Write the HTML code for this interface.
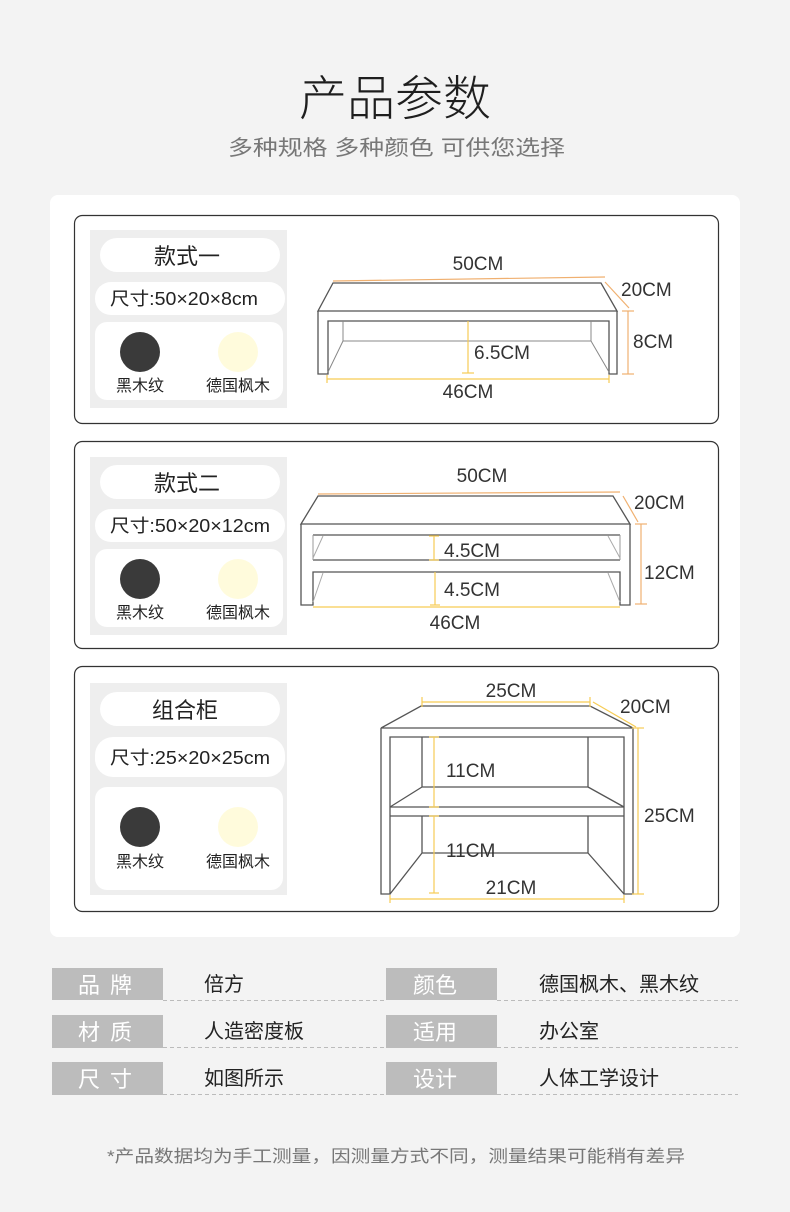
<!DOCTYPE html>
<html><head><meta charset="utf-8"><style>
html,body{margin:0;padding:0;background:#f3f3f3}
svg{display:block}
text{font-family:"Liberation Sans","Noto Sans CJK SC",sans-serif}
</style></head><body>
<svg width="790" height="1212" viewBox="0 0 790 1212" xmlns="http://www.w3.org/2000/svg">
<rect width="790" height="1212" fill="#f3f3f3"/>
<text x="395" y="115" font-size="48" fill="#1e1e1e" text-anchor="middle" font-weight="300">产品参数</text>
<text x="228" y="155" font-size="21" fill="#777" textLength="337" lengthAdjust="spacingAndGlyphs">多种规格 多种颜色 可供您选择</text>
<rect x="50" y="195" width="690" height="742" rx="8" fill="#fff"/>

<g fill="none" stroke="#333" stroke-width="1.2">
<rect x="74.5" y="215.5" width="644" height="208" rx="8"/>
<rect x="74.5" y="441.5" width="644" height="207" rx="8"/>
<rect x="74.5" y="666.5" width="644" height="245" rx="8"/>
</g>

<g>
<rect x="90" y="230" width="197" height="178" fill="#eee"/>
<rect x="100" y="238" width="180" height="34" rx="17" fill="#fff"/>
<rect x="95" y="282" width="190" height="33" rx="16" fill="#fff"/>
<rect x="95" y="322" width="188" height="78" rx="12" fill="#fff"/>
<text x="187" y="264" font-size="22" fill="#222" text-anchor="middle">款式一</text>
<text x="110" y="305" font-size="18" fill="#222" textLength="148" lengthAdjust="spacingAndGlyphs">尺寸:50×20×8cm</text>
<circle cx="140" cy="352" r="20" fill="#3a3a3a"/><circle cx="238" cy="352" r="20" fill="#fffbdc"/>
<text x="140" y="391" font-size="16" fill="#222" text-anchor="middle">黑木纹</text>
<text x="238" y="391" font-size="16" fill="#222" text-anchor="middle">德国枫木</text>
</g>
<g transform="translate(0,227)">
<rect x="90" y="230" width="197" height="178" fill="#eee"/>
<rect x="100" y="238" width="180" height="34" rx="17" fill="#fff"/>
<rect x="95" y="282" width="190" height="33" rx="16" fill="#fff"/>
<rect x="95" y="322" width="188" height="78" rx="12" fill="#fff"/>
<text x="187" y="264" font-size="22" fill="#222" text-anchor="middle">款式二</text>
<text x="110" y="305" font-size="18" fill="#222" textLength="160" lengthAdjust="spacingAndGlyphs">尺寸:50×20×12cm</text>
<circle cx="140" cy="352" r="20" fill="#3a3a3a"/><circle cx="238" cy="352" r="20" fill="#fffbdc"/>
<text x="140" y="391" font-size="16" fill="#222" text-anchor="middle">黑木纹</text>
<text x="238" y="391" font-size="16" fill="#222" text-anchor="middle">德国枫木</text>
</g>
<g>
<rect x="90" y="683" width="197" height="212" fill="#eee"/>
<rect x="100" y="692" width="180" height="34" rx="17" fill="#fff"/>
<rect x="95" y="737" width="190" height="40" rx="18" fill="#fff"/>
<rect x="95" y="787" width="188" height="103" rx="12" fill="#fff"/>
<text x="185" y="718" font-size="22" fill="#222" text-anchor="middle">组合柜</text>
<text x="110" y="764" font-size="18" fill="#222" textLength="160" lengthAdjust="spacingAndGlyphs">尺寸:25×20×25cm</text>
<circle cx="140" cy="827" r="20" fill="#3a3a3a"/><circle cx="238" cy="827" r="20" fill="#fffbdc"/>
<text x="140" y="867" font-size="16" fill="#222" text-anchor="middle">黑木纹</text>
<text x="238" y="867" font-size="16" fill="#222" text-anchor="middle">德国枫木</text>
</g>

<g fill="none" stroke="#555" stroke-width="1.3">
<path d="M333,283 L601,283 L617,311 L318,311 Z"/>
<path d="M318,311 L318,374 L328,374 L328,321 L609,321 L609,374 L617,374 L617,311"/>
<path d="M343,321 L343,341 L591,341 L591,321 M343,341 L328,372 M591,341 L609,372" stroke="#888" stroke-width="1"/>
</g>
<g stroke="#f0b070" stroke-width="1.2" fill="none">
<line x1="333" y1="281" x2="605" y2="277"/>
<line x1="605" y1="282" x2="629" y2="308"/>
<line x1="628" y1="311" x2="628" y2="374"/><line x1="622" y1="311" x2="634" y2="311"/><line x1="622" y1="374" x2="634" y2="374"/>
</g>
<g stroke="#f6cc55" stroke-width="1.2">
<line x1="468" y1="321" x2="468" y2="373"/><line x1="462" y1="373" x2="474" y2="373"/>
<line x1="327" y1="379" x2="609" y2="379"/><line x1="327" y1="375" x2="327" y2="383"/><line x1="609" y1="375" x2="609" y2="383"/>
</g>
<g font-size="19" fill="#333">
<text x="478" y="270" text-anchor="middle">50CM</text>
<text x="621" y="296">20CM</text>
<text x="633" y="348">8CM</text>
<text x="474" y="359">6.5CM</text>
<text x="468" y="398" text-anchor="middle">46CM</text>
</g>

<g fill="none" stroke="#555" stroke-width="1.3">
<path d="M318,496 L613,496 L630,524 L301,524 Z"/>
<path d="M301,524 L301,605 L313,605 L313,572 L620,572 L620,605 L630,605 L630,524"/>
<path d="M313,535 L620,535 M313,560 L620,560"/>
<path d="M313,535 L313,560 M620,535 L620,560" stroke="#999" stroke-width="1"/>
<path d="M323,536 L313,558 M608,536 L620,558 M323,573 L313,602 M608,573 L620,602" stroke="#aaa" stroke-width="1"/>
</g>
<g stroke="#f0b070" stroke-width="1.2">
<line x1="318" y1="494" x2="620" y2="492"/>
<line x1="623" y1="496" x2="638" y2="522"/>
<line x1="641" y1="524" x2="641" y2="604"/><line x1="635" y1="524" x2="647" y2="524"/><line x1="635" y1="604" x2="647" y2="604"/>
</g>
<g stroke="#f6cc55" stroke-width="1.2">
<line x1="434" y1="536" x2="434" y2="560"/><line x1="429" y1="536" x2="439" y2="536"/><line x1="429" y1="560" x2="439" y2="560"/>
<line x1="435" y1="572" x2="435" y2="605"/><line x1="430" y1="605" x2="440" y2="605"/>
<line x1="313" y1="607" x2="620" y2="607"/>
</g>
<g font-size="19" fill="#333">
<text x="482" y="482" text-anchor="middle">50CM</text>
<text x="634" y="509">20CM</text>
<text x="644" y="579">12CM</text>
<text x="444" y="557">4.5CM</text>
<text x="444" y="596">4.5CM</text>
<text x="455" y="629" text-anchor="middle">46CM</text>
</g>

<g fill="none" stroke="#555" stroke-width="1.3">
<path d="M421,706 L590,706 L633,728 L381,728 Z"/>
<path d="M381,728 L381,894 L390,894 L390,737 L624,737 L624,894 L633,894 L633,728"/>
<path d="M390,807 L624,807 M390,816 L624,816"/>
<path d="M422,737 L422,787 L588,787 L588,737 M422,787 L390,807 M588,787 L624,807"/>
<path d="M422,816 L422,853 L588,853 L588,816 M422,853 L390,894 M588,853 L624,894"/>
</g>
<g stroke="#f6cc55" stroke-width="1.2">
<line x1="422" y1="702" x2="590" y2="702"/><line x1="422" y1="697" x2="422" y2="707"/><line x1="590" y1="697" x2="590" y2="707"/>
<line x1="593" y1="702" x2="636" y2="727"/>
<line x1="638" y1="728" x2="638" y2="894"/><line x1="632" y1="728" x2="644" y2="728"/><line x1="632" y1="894" x2="644" y2="894"/>
<line x1="434" y1="737" x2="434" y2="807"/><line x1="429" y1="737" x2="439" y2="737"/><line x1="429" y1="807" x2="439" y2="807"/>
<line x1="434" y1="816" x2="434" y2="893"/><line x1="429" y1="816" x2="439" y2="816"/><line x1="429" y1="893" x2="439" y2="893"/>
<line x1="390" y1="899" x2="624" y2="899"/><line x1="390" y1="895" x2="390" y2="903"/><line x1="624" y1="895" x2="624" y2="903"/>
</g>
<g font-size="19" fill="#333">
<text x="511" y="697" text-anchor="middle">25CM</text>
<text x="620" y="713">20CM</text>
<text x="644" y="822">25CM</text>
<text x="446" y="777">11CM</text>
<text x="446" y="857">11CM</text>
<text x="511" y="894" text-anchor="middle">21CM</text>
</g>

<g>
<rect x="52" y="968" width="111" height="32" fill="#bcbcbc"/>
<rect x="52" y="1015" width="111" height="33" fill="#bcbcbc"/>
<rect x="52" y="1062" width="111" height="33" fill="#bcbcbc"/>
<rect x="386" y="968" width="111" height="32" fill="#bcbcbc"/>
<rect x="386" y="1015" width="111" height="33" fill="#bcbcbc"/>
<rect x="386" y="1062" width="111" height="33" fill="#bcbcbc"/>
<g stroke="#bbb" stroke-width="1" stroke-dasharray="4,3">
<line x1="163" y1="1000.5" x2="385" y2="1000.5"/><line x1="497" y1="1000.5" x2="738" y2="1000.5"/>
<line x1="163" y1="1047.5" x2="385" y2="1047.5"/><line x1="497" y1="1047.5" x2="738" y2="1047.5"/>
<line x1="163" y1="1094.5" x2="385" y2="1094.5"/><line x1="497" y1="1094.5" x2="738" y2="1094.5"/>
</g>
<g font-size="22" fill="#fff">
<text x="78" y="993" letter-spacing="10">品牌</text>
<text x="78" y="1040" letter-spacing="10">材质</text>
<text x="78" y="1087" letter-spacing="10">尺寸</text>
<text x="413" y="993">颜色</text>
<text x="413" y="1040">适用</text>
<text x="413" y="1087">设计</text>
</g>
<g font-size="20" fill="#222">
<text x="204" y="991">倍方</text>
<text x="204" y="1038">人造密度板</text>
<text x="204" y="1085">如图所示</text>
<text x="539" y="991">德国枫木、黑木纹</text>
<text x="539" y="1038">办公室</text>
<text x="539" y="1085">人体工学设计</text>
</g>
</g>

<text x="107" y="1162" font-size="17" fill="#777" textLength="578" lengthAdjust="spacingAndGlyphs">*产品数据均为手工测量，因测量方式不同，测量结果可能稍有差异</text>
</svg>
</body></html>
